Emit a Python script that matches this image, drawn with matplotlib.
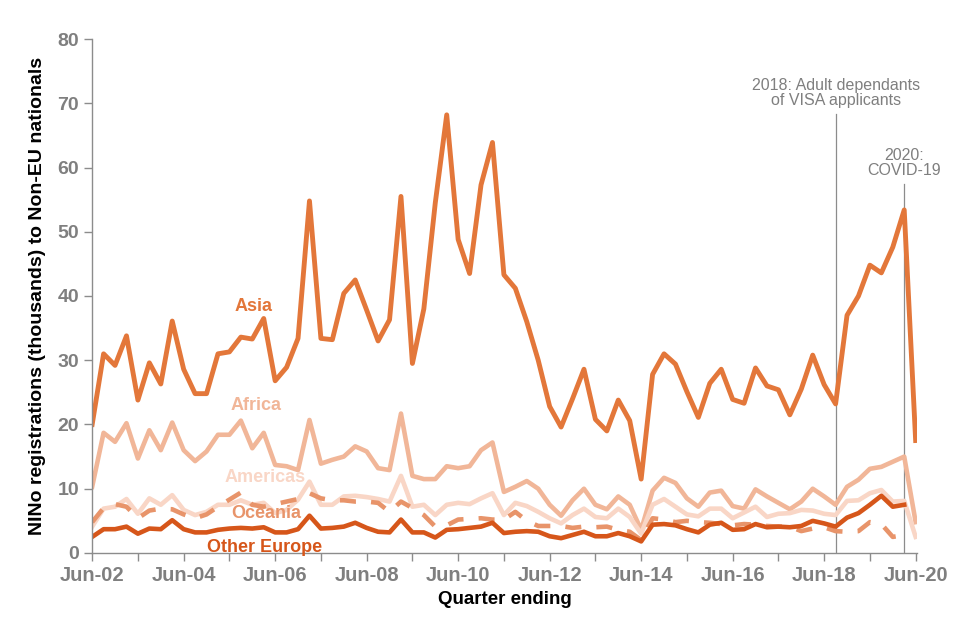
import numpy as np
import pandas as pd
import matplotlib
matplotlib.use("Agg")
import matplotlib.pyplot as plt

plt.rcParams['font.family'] = ['Liberation Sans', 'DejaVu Sans']

# quarters ending Jun-02 .. Jun-20
quarters = pd.period_range('2002Q2', '2020Q2', freq='Q')

asia = [20, 31, 29.2, 33.8, 23.8, 29.6, 26.3, 36.1, 28.6, 24.8, 24.8, 31, 31.3, 33.6, 33.3, 36.5,
        26.8, 28.9, 33.4, 54.8, 33.4, 33.2, 40.4, 42.5, 37.8, 33, 36.3, 55.5, 29.5, 38, 54.5, 68.2,
        48.8, 43.5, 57.3, 63.9, 43.3, 41.2, 36, 30, 22.8, 19.6, 24, 28.6, 20.8, 19, 23.8, 20.6,
        11.5, 27.8, 31, 29.4, 25.1, 21.1, 26.4, 28.6, 23.9, 23.3, 28.8, 26, 25.4, 21.5, 25.5, 30.8,
        26.2, 23.2, 37, 40, 44.8, 43.6, 47.6, 53.4, 17.5]
africa = [10.3, 18.7, 17.3, 20.2, 14.7, 19.1, 16, 20.3, 16, 14.3, 15.8, 18.4, 18.4, 20.6, 16.3, 18.7,
          13.7, 13.5, 12.9, 20.7, 13.9, 14.5, 15, 16.6, 15.8, 13.2, 12.9, 21.7, 12, 11.5, 11.5, 13.5,
          13.2, 13.5, 16, 17.2, 9.5, 10.3, 11.2, 10, 7.5, 5.8, 8.2, 10, 7.5, 6.8, 8.8, 7.5,
          3.6, 9.7, 11.7, 10.9, 8.5, 7.2, 9.4, 9.7, 7.3, 6.9, 9.9, 8.8, 7.8, 6.8, 8, 10,
          8.8, 7.5, 10.3, 11.4, 13.1, 13.4, 14.2, 15, 4.8]
americas = [4.1, 6.9, 7.2, 8.4, 6.1, 8.5, 7.5, 9, 6.7, 5.9, 6.4, 7.5, 7.5, 8.2, 7.5, 7.8,
            6.2, 6.7, 8.3, 11.1, 7.5, 7.5, 8.8, 8.9, 8.7, 8.4, 8, 12, 7.2, 7.5, 5.9, 7.5,
            7.8, 7.6, 8.5, 9.3, 5.9, 7.8, 7.3, 6.4, 5.4, 4.6, 5.9, 6.9, 5.6, 5.4, 6.9, 5.6,
            3, 7.5, 8.4, 7.2, 6, 5.7, 6.9, 6.9, 5.4, 6.3, 7.2, 5.6, 6.1, 6.2, 6.7, 6.6,
            6.1, 5.9, 8.1, 8.2, 9.3, 9.8, 8, 8.1, 2.5]
oceania = [4.8, 7, 7.6, 7.2, 5.4, 6.6, 6.9, 6.8, 6, 5.4, 6, 7.2, 8.3, 9.4, 7.5, 7.2,
           7.6, 8, 8.4, 9.3, 8.5, 8.2, 8.2, 8, 8, 7.8, 6.4, 8, 7, 5.9, 4.1, 4.3,
           5.2, 5.3, 5.4, 5.2, 5.2, 6.4, 5, 4.2, 4.2, 4.2, 3.9, 4.1, 4, 4.1, 3.6, 3.3,
           2, 5.4, 5.2, 4.8, 5, 4.8, 4.7, 4.5, 4.3, 4.5, 4.4, 4.2, 4.1, 4.1, 3.4, 3.8,
           4, 3.4, 3.3, 3.4, 4.8, 4.5, 2.5, 2.8]
other_europe = [2.5, 3.7, 3.7, 4.1, 3, 3.8, 3.7, 5.1, 3.7, 3.2, 3.2, 3.6, 3.8, 3.9, 3.8, 4,
                3.2, 3.2, 3.7, 5.8, 3.8, 3.9, 4.1, 4.7, 3.9, 3.3, 3.2, 5.2, 3.2, 3.2, 2.4, 3.6,
                3.7, 3.9, 4.1, 4.7, 3.1, 3.3, 3.4, 3.3, 2.6, 2.3, 2.8, 3.3, 2.6, 2.6, 3.1, 2.6,
                1.8, 4.4, 4.5, 4.3, 3.7, 3.2, 4.4, 4.7, 3.6, 3.7, 4.5, 4, 4.1, 4, 4.2, 5,
                4.6, 4.1, 5.5, 6.2, 7.5, 8.9, 7.2, 7.5]

events = {'2018Q3': "2018: Adult dependants\nof VISA applicants", '2020Q1': "2020:\nCOVID-19"}

c_asia = '#E3773A'
c_africa = '#F1B698'
c_americas = '#F9D6C6'
c_oceania = '#E8946A'
c_oeur = '#D6561A'
grey = '#7F7F7F'

x = np.arange(len(quarters))

fig = plt.figure(figsize=(9.6, 6.4), dpi=100)
ax = fig.add_axes([0.096, 0.136, 0.859, 0.803])

ax.plot(x, africa, color=c_africa, lw=3.3, solid_joinstyle='round')
ax.plot(x, americas, color=c_americas, lw=3.3, solid_joinstyle='round')
ax.plot(x[:len(oceania)], oceania, color=c_oceania, lw=3.3, linestyle=(0, (3.5, 3.3)))
ax.plot(x[:len(other_europe)], other_europe, color=c_oeur, lw=3.3, solid_joinstyle='round')
ax.plot(x, asia, color=c_asia, lw=3.5, solid_joinstyle='round')

# event lines
tops = [68.4, 57.5]
for (q, txt), top in zip(events.items(), tops):
    xi = list(quarters.astype(str)).index(q)
    ax.plot([xi, xi], [0, top], color='#8C8C8C', lw=0.9, zorder=0)
    ax.text(xi, top + 0.8, txt, ha='center', va='bottom', color=grey, fontsize=11.5,
            linespacing=1.0)

# series labels
lab = dict(fontsize=13, fontweight='bold', ha='center', va='center')
ax.text(14.1, 38.3, 'Asia', color=c_asia, **lab)
ax.text(14.3, 22.9, 'Africa', color=c_africa, **lab)
ax.text(15.1, 11.7, 'Americas', color=c_americas, **lab)
ax.text(15.2, 6.1, 'Oceania', color=c_oceania, **lab)
ax.text(15.1, 0.8, 'Other Europe', color=c_oeur, **lab)

ax.set_xlim(0, 72.1)
ax.set_ylim(0, 80)
ax.set_yticks(range(0, 81, 10))
ticks = x[::4]
ax.set_xticks(ticks)
ax.set_xticklabels([quarters[i].strftime('Jun-%y') if k % 2 == 0 else '' for k, i in enumerate(ticks)])

for s in ['top', 'right']:
    ax.spines[s].set_visible(False)
for s in ['left', 'bottom']:
    ax.spines[s].set_color('#8C8C8C')
    ax.spines[s].set_linewidth(1.0)
ax.tick_params(colors='#8C8C8C', length=6, width=1.0, labelsize=14, labelcolor=grey)
ax.tick_params(axis='x', labelsize=14.5)
for t in ax.get_xticklabels() + ax.get_yticklabels():
    t.set_fontweight('bold')

ax.set_xlabel('Quarter ending', fontsize=13.5, fontweight='bold', labelpad=4)
ax.set_ylabel('NINo registrations (thousands) to Non-EU nationals', fontsize=14,
              fontweight='bold', labelpad=8)

fig.savefig('out.png', dpi=100)
